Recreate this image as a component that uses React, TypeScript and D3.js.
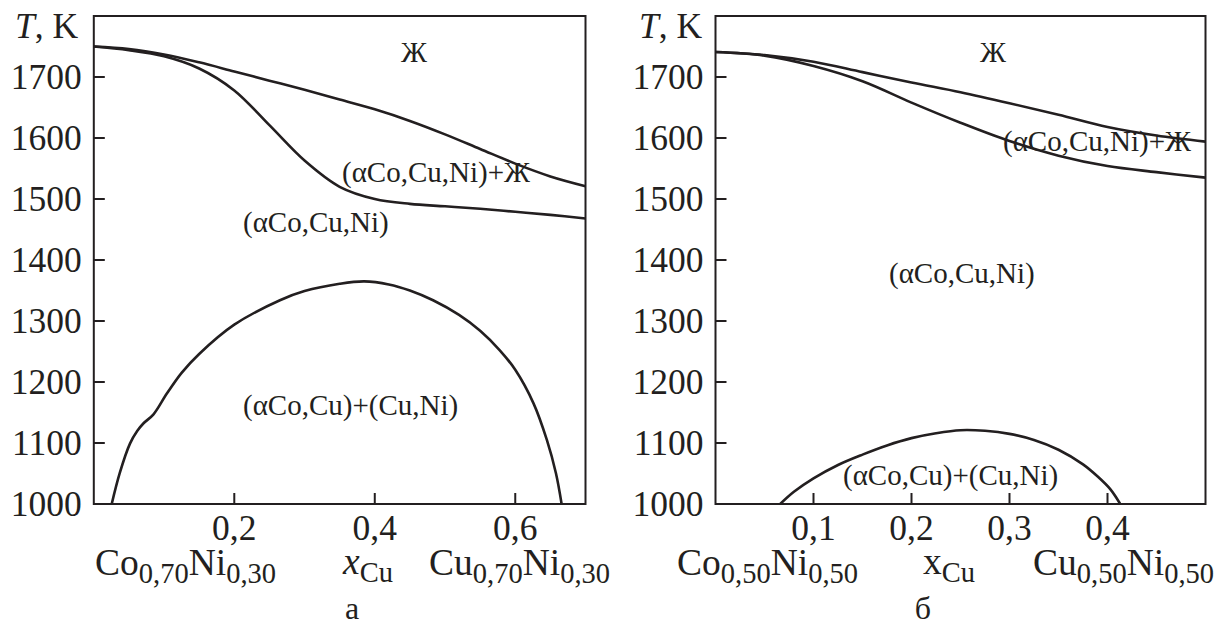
import React from "react";
import * as d3 from "d3";

// ---------- data ----------
// Panel a: Co0.70Ni0.30 – Cu0.70Ni0.30
const liquidusA: [number, number][] = [
  [0, 1750], [0.05, 1746], [0.1, 1737], [0.15, 1724], [0.2, 1709], [0.25, 1694],
  [0.3, 1679], [0.35, 1663], [0.4, 1647], [0.45, 1628], [0.5, 1606], [0.55, 1582],
  [0.6, 1558], [0.65, 1537], [0.7, 1521],
];
const solidusA: [number, number][] = [
  [0, 1750], [0.05, 1744], [0.1, 1734], [0.15, 1714], [0.2, 1678], [0.25, 1621],
  [0.3, 1563], [0.35, 1520], [0.4, 1500], [0.45, 1492], [0.5, 1488], [0.55, 1484],
  [0.6, 1479], [0.65, 1474], [0.7, 1468],
];
const gapA: [number, number][] = [
  [0.0255, 1000], [0.037, 1051], [0.0515, 1099], [0.062, 1120], [0.0705, 1132],
  [0.085, 1147], [0.104, 1181], [0.125, 1215], [0.15, 1246], [0.2, 1294],
  [0.265, 1334], [0.3, 1349], [0.35, 1361], [0.385, 1365], [0.42, 1360],
  [0.45, 1350], [0.483, 1334], [0.52, 1310], [0.55, 1284], [0.578, 1252],
  [0.6, 1220], [0.626, 1165], [0.645, 1105], [0.658, 1050], [0.666, 1000],
];
const xTicksA = [0.2, 0.4, 0.6];

// Panel б: Co0.50Ni0.50 – Cu0.50Ni0.50
const liquidusB: [number, number][] = [
  [0, 1741], [0.05, 1736], [0.1, 1725], [0.15, 1708], [0.2, 1691], [0.25, 1675],
  [0.3, 1657], [0.35, 1638], [0.4, 1618], [0.45, 1604], [0.5, 1594],
];
const solidusB: [number, number][] = [
  [0, 1741], [0.05, 1735], [0.1, 1718], [0.15, 1693], [0.2, 1658], [0.25, 1625],
  [0.3, 1595], [0.35, 1571], [0.4, 1554], [0.45, 1544], [0.5, 1535],
];
const gapB: [number, number][] = [
  [0.066, 1000], [0.08, 1020], [0.1, 1042], [0.125, 1064], [0.15, 1081],
  [0.175, 1096], [0.2, 1108], [0.225, 1116], [0.25, 1121], [0.275, 1120],
  [0.3, 1115], [0.325, 1105], [0.35, 1089], [0.375, 1065], [0.39, 1045],
  [0.403, 1024], [0.413, 1000],
];
const xTicksB = [0.1, 0.2, 0.3, 0.4];

const yTicks = [1000, 1100, 1200, 1300, 1400, 1500, 1600, 1700];
const yDomain: [number, number] = [1000, 1800];

const INK = "#231f20";
const FONT = "Liberation Serif, Times New Roman, DejaVu Serif, serif";

type Lbl = { text: string; x: number; y: number; anchor?: string };

interface PanelProps {
  id: string;
  left: number;
  right: number;
  xMax: number;
  xTicks: number[];
  curves: [number, number][][];
  labels: Lbl[];
  leftFormula: [string, string, string, string];
  rightFormula: [string, string, string, string];
  leftFormulaX: number;
  rightFormulaX: number;
  xVarX: number;
  xVarItalic: boolean;
  tkX: number;
  caption: string;
  captionX: number;
}

const TOP = 16;
const BOTTOM = 504;
const txt = { fontFamily: FONT, fill: INK } as React.CSSProperties;

function Formula({ x, y, parts }: { x: number; y: number; parts: [string, string, string, string] }) {
  return (
    <text x={x} y={y} style={{ ...txt, fontSize: 37.5 }}>
      <tspan>{parts[0]}</tspan>
      <tspan style={{ fontSize: 28.5 }} dy={8}>{parts[1]}</tspan>
      <tspan dy={-8}>{parts[2]}</tspan>
      <tspan style={{ fontSize: 28.5 }} dy={8}>{parts[3]}</tspan>
    </text>
  );
}

function Panel(p: PanelProps) {
  const xs = d3.scaleLinear().domain([0, p.xMax]).range([p.left, p.right]);
  const ys = d3.scaleLinear().domain(yDomain).range([BOTTOM, TOP]);
  const line = d3
    .line<[number, number]>()
    .x((d) => xs(d[0]))
    .y((d) => ys(d[1]))
    .curve(d3.curveCatmullRom.alpha(0.5));
  const fmt = (v: number) => String(v).replace(".", ",");
  return (
    <g>
      <defs>
        <clipPath id={`clip-${p.id}`}>
          <rect x={p.left} y={TOP} width={p.right - p.left} height={BOTTOM - TOP} />
        </clipPath>
      </defs>
      <g clipPath={`url(#clip-${p.id})`}>
        {p.curves.map((c, i) => (
          <path key={i} d={line(c) || ""} fill="none" stroke={INK} strokeWidth={2.6} strokeLinejoin="round" />
        ))}
      </g>
      <rect x={p.left} y={TOP} width={p.right - p.left} height={BOTTOM - TOP} fill="none" stroke={INK} strokeWidth={2} />
      {yTicks.map((t) => (
        <g key={t}>
          {t !== 1000 && <line x1={p.left} x2={p.left + 11} y1={ys(t)} y2={ys(t)} stroke={INK} strokeWidth={2} />}
          <text x={p.left - 12} y={ys(t) + 12} textAnchor="end" style={{ ...txt, fontSize: 35.5 }}>
            {t}
          </text>
        </g>
      ))}
      {p.xTicks.map((t) => (
        <g key={t}>
          <line x1={xs(t)} x2={xs(t)} y1={BOTTOM} y2={BOTTOM - 11} stroke={INK} strokeWidth={2} />
          <text x={xs(t)} y={BOTTOM + 36} textAnchor="middle" style={{ ...txt, fontSize: 35.5 }}>
            {fmt(t)}
          </text>
        </g>
      ))}
      <text x={p.tkX} y={38} style={{ ...txt, fontSize: 35.5 }}>
        <tspan style={{ fontStyle: "italic" }}>T</tspan>
        <tspan>, K</tspan>
      </text>
      {p.labels.map((l, i) => (
        <text key={i} x={l.x} y={l.y} textAnchor={l.anchor || "start"} style={{ ...txt, fontSize: 29 }}>
          {l.text}
        </text>
      ))}
      <Formula x={p.leftFormulaX} y={575} parts={p.leftFormula} />
      <Formula x={p.rightFormulaX} y={575} parts={p.rightFormula} />
      <text x={p.xVarX} y={574} style={{ ...txt, fontSize: 37.5 }}>
        <tspan style={{ fontStyle: p.xVarItalic ? "italic" : "normal" }}>x</tspan>
        <tspan style={{ fontSize: 28.5 }} dy={8}>Cu</tspan>
      </text>
      <text x={p.captionX} y={619} textAnchor="middle" style={{ ...txt, fontSize: 32 }}>
        {p.caption}
      </text>
    </g>
  );
}

export default function App() {
  return (
    <svg
      width={1217}
      height={625}
      viewBox="0 0 1217 625"
      style={{ position: "absolute", left: 0, top: 0, background: "#fff" }}
    >
      <rect x={0} y={0} width={1217} height={625} fill="#fff" />
      <Panel
        id="a"
        left={93.8}
        right={585.5}
        xMax={0.7}
        xTicks={xTicksA}
        curves={[liquidusA, solidusA, gapA]}
        labels={[
          { text: "Ж", x: 414, y: 62, anchor: "middle" },
          { text: "(αCo,Cu,Ni)+Ж", x: 342, y: 182 },
          { text: "(αCo,Cu,Ni)", x: 243, y: 232 },
          { text: "(αCo,Cu)+(Cu,Ni)", x: 243, y: 415 },
        ]}
        leftFormula={["Co", "0,70", "Ni", "0,30"]}
        rightFormula={["Cu", "0,70", "Ni", "0,30"]}
        leftFormulaX={95}
        rightFormulaX={429}
        xVarX={343}
        xVarItalic={true}
        tkX={15}
        caption="а"
        captionX={352}
      />
      <Panel
        id="b"
        left={715.5}
        right={1205.5}
        xMax={0.5}
        xTicks={xTicksB}
        curves={[liquidusB, solidusB, gapB]}
        labels={[
          { text: "Ж", x: 993, y: 62, anchor: "middle" },
          { text: "(αCo,Cu,Ni)+Ж", x: 1003, y: 151 },
          { text: "(αCo,Cu,Ni)", x: 889, y: 283 },
          { text: "(αCo,Cu)+(Cu,Ni)", x: 843, y: 485 },
        ]}
        leftFormula={["Co", "0,50", "Ni", "0,50"]}
        rightFormula={["Cu", "0,50", "Ni", "0,50"]}
        leftFormulaX={677}
        rightFormulaX={1033}
        xVarX={923}
        xVarItalic={false}
        tkX={639}
        caption="б"
        captionX={923}
      />
    </svg>
  );
}
